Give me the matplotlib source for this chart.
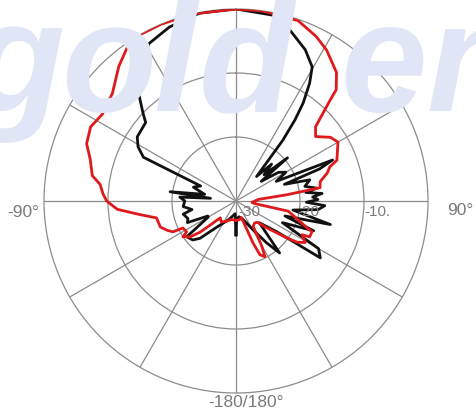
import numpy as np
import matplotlib
matplotlib.use("Agg")
import matplotlib.pyplot as plt
from matplotlib import font_manager

# ---- data (angle in degrees, level in dB) ----
red_angles = [-180, -165, -155, -145, -137, -133, -131, -128, -124, -122, -117, -116,
              -113, -109, -102, -98, -94, -90, -87, -83, -80, -74, -69, -63, -57, -49,
              -41, -35, -30, -23, -13, 0, 8, 19, 26, 31, 38, 42, 43, 45, 47, 51, 56, 60,
              68, 70, 73, 77, 81, 83, 86, 95, 98, 101, 105, 110, 112, 116, 117, 121, 124,
              126, 128, 131, 135, 140, 146, 148.6, 150.5, 152.6, 156, 158, 159, 162, 170, 180]
red_db = [-27, -27, -26.5, -26, -26.4, -24.5, -22.6, -20.9, -20.0, -20.9, -20.7, -19.0,
          -18.3, -17.5, -17.3, -14.8, -11.4, -9.8, -9.2, -8.6, -7.2, -6.3, -5.0, -4.5, -5.1, -4.4,
          -2.1, -0.5, 0, 0, 0, 0, 0, -0.2, -1.4, -2.5, -4.5, -6.6, -8.4, -11, -13, -14, -12.2, -11.6,
          -13, -14.4, -15.1, -16.5, -16.7, -22, -26.5, -27.5, -27, -21.7, -20.5, -18.5, -17.2, -17.2,
          -18.4, -17.4, -18.5, -20.2, -21.9, -23.6, -25.3, -25.5, -25.2, -23.4, -21.7, -20.2, -20.8,
          -23, -25.2, -27.3, -27, -27]

black_angles = [-180, -176, -160, -150, -144, -136, -132, -126, -120, -118, -114, -110,
                -104, -101, -96, -90, -86, -84, -82, -78, -72, -67, -64.7, -61, -57, -49,
                -46.6, -41, -35, -29, -21, -11, 0, 11, 17.5, 24.6, 29.6, 32, 34.4, 36, 37.6,
                38.5, 40, 44, 47, 50, 52, 56, 60, 64, 67, 69, 71, 74, 78, 81, 83, 85, 87, 89,
                91, 93, 96, 99, 104, 107, 111, 115, 120, 124, 127, 133, 140, 144, 150, 160,
                170, 178, 180]
black_db = [-24.7, -28, -27, -26, -25, -21.9, -20.9, -20.5, -25, -25, -21.7, -22,
            -21.5, -23, -21.7, -22, -21.2, -26, -19.6, -25, -23, -24, -14, -12.5, -11.6, -11.3,
            -10, -6.5, -4.4, -1.9, -0.9, -0.1, 0, -0.4, -2, -4, -5.9, -8.3, -11.4, -14.3, -18,
            -22, -25, -22, -24, -19.5, -25, -22, -21, -23, -13.6, -16, -22, -18, -19, -17.2, -19,
            -16.5, -18, -17.2, -19, -16.1, -17.1, -21, -14.8, -22, -17, -22, -15.1, -14.1, -22,
            -25, -19.4, -22, -25, -27, -27.5, -27, -24.7]

radial_ticks = [-20, -10]
radial_labels = ["-30", "-20", "-10."]
angle_labels = ["-90°", "90°", "-180/180°"]
watermark = "golden"

W, H = 476, 411
fig = plt.figure(figsize=(W / 100, H / 100), dpi=100)
fig.patch.set_facecolor("white")

names = {f.name for f in font_manager.fontManager.ttflist}
if "Liberation Sans Narrow" in names:
    wm_family, wm_size = "Liberation Sans Narrow", 128
else:
    wm_family, wm_size = "Liberation Sans", 112

# watermark, letters spread out like the reference
wm_x = [-30, 61, 153, 199, 340, 426]
for ch, xp in zip(watermark, wm_x):
    fig.text(xp / W, 1 - 111 / H, ch, fontsize=wm_size, fontweight="bold",
             fontstyle="italic", family=wm_family, color="#e1e6f6",
             ha="left", va="baseline", zorder=0)

cx, cy, R = 236, 201, 192
ax = fig.add_axes([(cx - R) / W, (H - cy - R) / H, 2 * R / W, 2 * R / H],
                  projection="polar")
ax.patch.set_alpha(0)
ax.set_theta_zero_location("N")
ax.set_theta_direction(-1)
ax.set_ylim(-30, 0)
ax.set_rticks(radial_ticks)
ax.set_yticklabels([])
ax.set_thetagrids(np.arange(0, 360, 30), labels=[])
ax.grid(True, color="#8c8c8c", linewidth=0.9)
ax.spines["polar"].set_color("#8c8c8c")
ax.spines["polar"].set_linewidth(0.9)
ax.tick_params(length=0)

def prep(a, d):
    return np.deg2rad(np.asarray(a, float)), np.asarray(d, float)

ta, da = prep(black_angles, black_db)
ax.plot(ta, da, color="#111111", linewidth=2.0, zorder=3)
tr, dr = prep(red_angles, red_db)
ax.plot(tr, dr, color="#e0191b", linewidth=2.0, zorder=4)

# radial labels
lab_col = "#7a7a7a"
for txt, xpix in zip(radial_labels, [238, 297, 364]):
    fig.text(xpix / W, 1 - 212 / H, txt, fontsize=11, color=lab_col,
             family="Liberation Sans", ha="left", va="center", zorder=2)

fig.text(39 / W, 1 - 212 / H, angle_labels[0], fontsize=12.5, color=lab_col,
         family="Liberation Sans", ha="right", va="center")
fig.text(447 / W, 1 - 210 / H, angle_labels[1], fontsize=12.5, color=lab_col,
         family="Liberation Sans", ha="left", va="center")
fig.text(246 / W, 1 - 402 / H, angle_labels[2], fontsize=12.5, color=lab_col,
         family="Liberation Sans", ha="center", va="center")

fig.savefig("out.png", dpi=100)
